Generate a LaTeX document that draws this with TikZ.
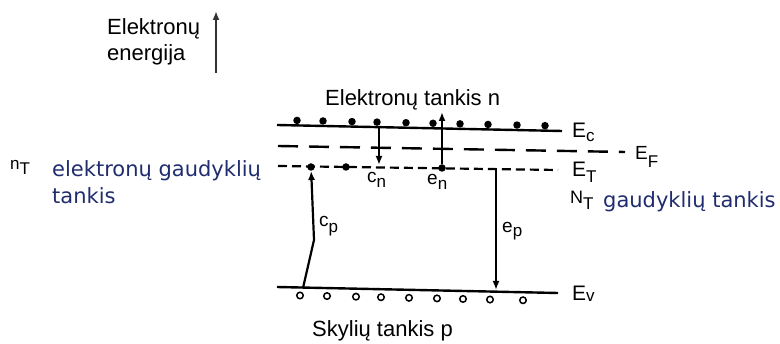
\documentclass[tikz,border=0pt]{standalone}
\usepackage{fontspec}
\setmainfont{Liberation Sans}
\newfontfamily\bluefont{DejaVu Sans}
\usetikzlibrary{arrows.meta}
\definecolor{tblue}{RGB}{32,44,110}
\newcommand\sbx[2]{\raisebox{-#1pt}{\fontsize{17}{17}\selectfont #2}}
\tikzset{
  lbl/.style={inner sep=0, anchor=base west, font=\fontsize{22}{24}\selectfont},
  sym/.style={inner sep=0, anchor=base west, font=\fontsize{21}{22}\selectfont},
  small/.style={inner sep=0, anchor=base west, font=\fontsize{19}{20}\selectfont},
  bluetxt/.style={inner sep=0, anchor=base west, text=tblue, font=\bluefont\fontsize{21}{24}\selectfont},
  level/.style={line width=2.4pt},
  efline/.style={line width=2.4pt, dash pattern=on 20pt off 11pt},
  etline/.style={line width=2.2pt, dash pattern=on 9pt off 5pt},
  trans/.style={line width=2.2pt, -{Latex[length=9pt,width=7pt]}},
  elec/.style={circle, fill=black, inner sep=0, minimum size=7.5pt},
  hole/.style={circle, draw=black, line width=1.5pt, fill=white, inner sep=0, minimum size=6.5pt},
}
\begin{document}
\begin{tikzpicture}[x=1pt,y=-1pt]
\useasboundingbox (0,0) rectangle (780,344);
% axis label
\node[lbl] (el) at (107,35) {Elektronų};
\node[lbl] (en) at (107,61) {energija};
\coordinate (ax0) at (216,73);
\coordinate (ax1) at (216,11);
\draw[line width=2.4pt, draw=black!80, -{Latex[length=9pt,width=7pt]}] (ax0) -- (ax1);
% top label
\node[lbl] (ntop) at (325,106) {Elektronų tankis n};
% levels
\coordinate (ecL) at (277,125); \coordinate (ecR) at (562,131);
\coordinate (efL) at (278,146); \coordinate (efR) at (625,152);
\coordinate (etL) at (278,166); \coordinate (etR) at (558,170);
\coordinate (evL) at (277,287); \coordinate (evR) at (558,293);
\draw[level] (ecL) -- (ecR);
\draw[efline] (efL) -- (efR);
\draw[etline] (etL) -- (etR);
\draw[level] (evL) -- (evR);
% level labels
\node[sym] (ec) at (572,138) {E\sbx{4}{c}};
\node[sym, font=\fontsize{19}{19}\selectfont] (ef) at (635,160) {E\sbx{8}{F}};
\node[sym] (et) at (572,177) {E\sbx{6}{T}};
\node[sym] (ev) at (572,301) {E\sbx{1}{v}};
% electrons in conduction band
\foreach \x [count=\i] in {297,323,352,377,406,433,460,488,517,545}
  \node[elec] (e\i) at (\x,{125+6*(\x-277)/285-5}) {};
% trapped electrons
\node[elec] (t1) at (311,167) {};
\node[elec] (t2) at (346,167) {};
\node[elec] (t3) at (442,168) {};
% holes
\foreach \x [count=\i] in {300,327,356,381,409,437,463,490,523}
  \node[hole] (h\i) at (\x,{287+6*(\x-277)/281+8}) {};
% transitions
\coordinate (cn0) at (379,127);
\coordinate (cn1) at (379,165);
\draw[trans] (cn0) -- (cn1);
\coordinate (en1) at (442,112);
\draw[trans] (t3) -- (en1);
\coordinate (cp0) at (303,288);
\coordinate (cp1) at (314,240);
\draw[trans] (cp0) -- (cp1) -- (t1);
\coordinate (ep0) at (496,169);
\coordinate (ep1) at (496,290);
\draw[trans] (ep0) -- (ep1);
% transition labels
\node[small] (lcn) at (367,183) {c\sbx{5}{n}};
\node[small] (len) at (427,185) {e\sbx{5}{n}};
\node[small] (lcp) at (319,227) {c\sbx{6}{p}};
\node[small] (lep) at (502,233) {e\sbx{4}{p}};
% bottom label
\node[lbl] (pbot) at (312,337) {Skylių tankis p};
% left label
\node[small, font=\fontsize{17}{18}\selectfont] (nT) at (10,170) {n\sbx{5}{T}};
\node[bluetxt] (l1) at (52,177) {elektronų gaudyklių};
\node[bluetxt] (l2) at (52,204) {tankis};
% right label
\node[small, font=\fontsize{18}{18}\selectfont] (NT) at (570,204) {N\sbx{6}{T}};
\node[bluetxt] (r1) at (603,208) {gaudyklių tankis};
\end{tikzpicture}
\end{document}
